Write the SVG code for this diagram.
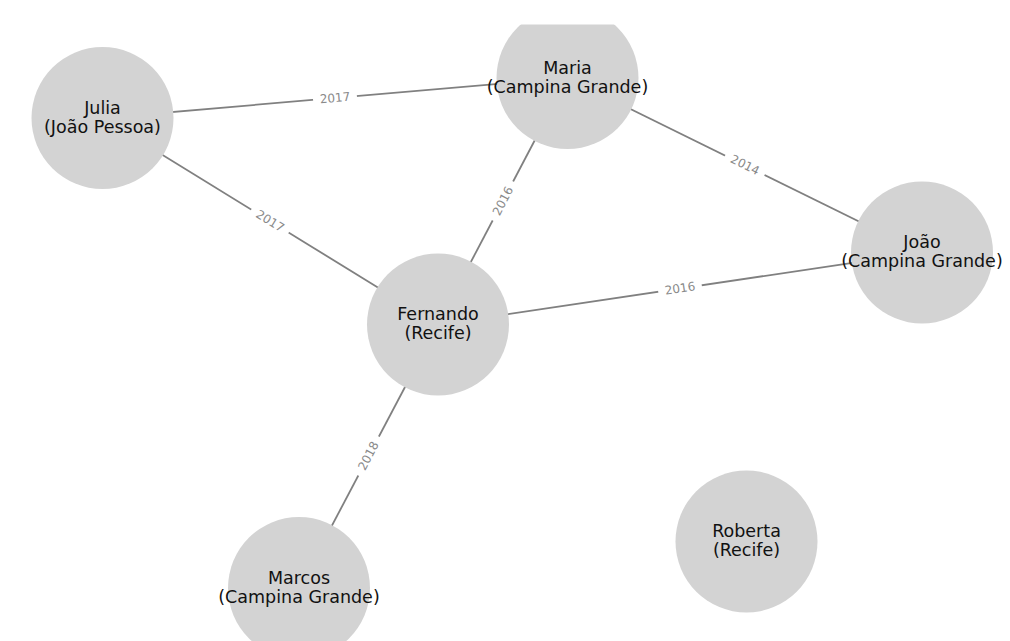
<svg xmlns="http://www.w3.org/2000/svg" width="1010" height="641" viewBox="0 0 1010 641">
<style>
.edge{stroke:#808080;stroke-width:1.8;fill:none}
.node{fill:#d3d3d3}
.nl{font-family:"DejaVu Sans",sans-serif;font-size:17.5px;fill:#111;text-anchor:middle}
.el{font-family:"DejaVu Sans",sans-serif;font-size:12px;fill:#8a8a8a;text-anchor:middle;dominant-baseline:central}
.eb{fill:#fff}
</style>
<defs>
<clipPath id="ax"><rect x="0" y="24.5" width="1010" height="617"/></clipPath>
</defs>
<rect width="1010" height="641" fill="#fff"/>
<g id="connectors">
<line class="edge" x1="102.5" y1="118" x2="567.5" y2="78"/>
<line class="edge" x1="102.5" y1="118" x2="438" y2="324.5"/>
<line class="edge" x1="567.5" y1="78" x2="438" y2="324.5"/>
<line class="edge" x1="567.5" y1="78" x2="922" y2="252.5"/>
<line class="edge" x1="438" y1="324.5" x2="922" y2="252.5"/>
<line class="edge" x1="438" y1="324.5" x2="299" y2="588"/>
<g transform="translate(335,98) rotate(-4.9)"><rect class="eb" x="-22" y="-8" width="44" height="16"/><text class="el">2017</text></g>
<g transform="translate(270,221) rotate(31.6)"><rect class="eb" x="-22" y="-8" width="44" height="16"/><text class="el">2017</text></g>
<g transform="translate(503,201) rotate(-62.3)"><rect class="eb" x="-22" y="-8" width="44" height="16"/><text class="el">2016</text></g>
<g transform="translate(745,165) rotate(26.2)"><rect class="eb" x="-22" y="-8" width="44" height="16"/><text class="el">2014</text></g>
<g transform="translate(680,288.5) rotate(-8.5)"><rect class="eb" x="-22" y="-8" width="44" height="16"/><text class="el">2016</text></g>
<g transform="translate(368.5,456) rotate(-62.2)"><rect class="eb" x="-22" y="-8" width="44" height="16"/><text class="el">2018</text></g>
</g>
<g clip-path="url(#ax)">
<g id="julia"><circle class="node" cx="102.5" cy="118" r="71"/><text class="nl" x="102.5" y="113.5">Julia</text><text class="nl" x="102.5" y="132.5">(João Pessoa)</text></g>
<g id="maria"><circle class="node" cx="567.5" cy="78" r="71"/><text class="nl" x="567.5" y="74">Maria</text><text class="nl" x="567.5" y="93">(Campina Grande)</text></g>
<g id="fernando"><circle class="node" cx="438" cy="324.5" r="71"/><text class="nl" x="438" y="320">Fernando</text><text class="nl" x="438" y="339">(Recife)</text></g>
<g id="joao"><circle class="node" cx="922" cy="252.5" r="71"/><text class="nl" x="922" y="248">João</text><text class="nl" x="922" y="267">(Campina Grande)</text></g>
<g id="marcos"><circle class="node" cx="299" cy="588" r="71"/><text class="nl" x="299" y="583.5">Marcos</text><text class="nl" x="299" y="602.5">(Campina Grande)</text></g>
<g id="roberta"><circle class="node" cx="746.5" cy="541.5" r="71"/><text class="nl" x="746.5" y="537">Roberta</text><text class="nl" x="746.5" y="556">(Recife)</text></g>
</g>
</svg>
